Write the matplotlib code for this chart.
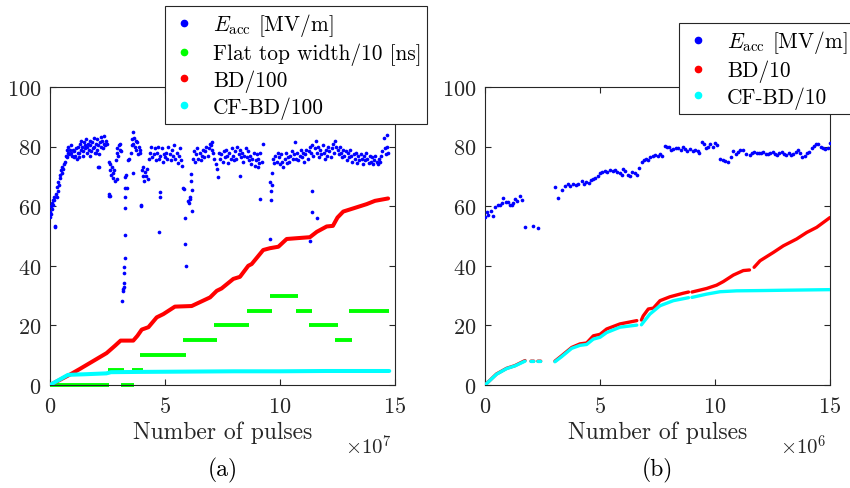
import numpy as np
import matplotlib
matplotlib.use("Agg")
import matplotlib.pyplot as plt
from matplotlib.lines import Line2D

plt.rcParams['font.family'] = ['cmr10', 'DejaVu Serif']
plt.rcParams['mathtext.fontset'] = 'cm'
plt.rcParams['axes.formatter.use_mathtext'] = True

nan = np.nan

# ---- panel (a): pulses in units of 1e7 ----
eacc_a_x = [0.0, 0.02, 0.04, 0.06, 0.08, 0.1, 0.12, 0.14, 0.16, 0.18, 0.2, 0.22,
            0.26, 0.3, 0.3, 0.33, 0.36, 0.4, 0.42, 0.45, 0.48, 0.5, 0.53, 0.56, 0.6,
            0.66, 0.7, 0.72, 0.75, 0.78, 0.8, 0.83, 0.86, 0.9, 0.93, 0.96, 1.0, 1.03, 1.06,
            1.1, 1.13, 1.16, 1.2,
            1.22, 1.26, 1.3, 1.33, 1.36, 1.4, 1.43, 1.46, 1.5, 1.53, 1.56, 1.6, 1.63, 1.66,
            1.7, 1.73, 1.76, 1.8, 1.83, 1.86, 1.9, 1.93, 1.96, 2.0, 2.03, 2.06, 2.1, 2.13,
            2.16, 2.2, 2.23, 2.26, 2.3, 2.33, 2.36, 2.4, 2.43, 2.46, 2.1, 1.25, 1.45, 1.75, 2.0,
            2.55, 2.6, 2.63, 2.66, 2.7, 2.73, 2.76, 2.8, 2.83, 2.57, 2.58, 2.85, 2.9, 2.93,
            2.96, 3.0, 3.03, 3.06, 3.1, 2.6, 2.9, 2.13,
            3.13, 3.17, 3.18, 3.2, 3.2, 3.22, 3.23, 3.24, 3.25, 3.26, 3.27, 3.28, 3.27, 3.3, 3.33,
            3.4, 3.45, 3.5, 3.55, 3.58, 3.6, 3.63, 3.66, 3.7, 3.73, 3.76, 3.8, 3.83, 3.86, 3.9,
            3.93, 3.62, 3.97, 3.97,
            4.0, 4.03, 4.06, 4.1, 4.13, 4.16, 4.2, 4.25,
            4.3, 4.35, 4.4, 4.45, 4.5, 4.55, 4.6, 4.65, 4.7, 4.75, 4.8, 4.85, 4.9, 4.95, 5.0,
            4.78, 4.79, 4.75,
            5.05, 5.1, 5.15, 5.2, 5.25, 5.3, 5.35, 5.4, 5.45, 5.5, 5.55, 5.6, 5.65, 5.7, 5.75,
            5.83, 5.86, 5.86, 5.91, 6.01, 6.05, 6.09, 6.12, 6.12, 6.16, 6.16, 6.1, 5.8,
            6.2, 6.25, 6.3, 6.35, 6.4, 6.45, 6.5, 6.55, 6.6, 6.65, 6.7, 6.75, 6.8, 6.85, 6.9,
            6.95, 7.0, 7.03, 7.06, 7.1, 7.15, 7.2, 7.25, 7.32,
            7.35, 7.4, 7.45, 7.5, 7.55, 7.6, 7.65, 7.7, 7.75, 7.8, 7.85, 7.9, 7.95, 8.0, 8.05,
            8.1, 8.15, 8.2, 8.25, 8.3, 8.35, 8.4, 8.45, 8.5, 8.55, 8.6, 8.65, 8.7, 8.75, 8.8,
            8.85, 8.9, 8.95, 9.0, 9.05, 9.1, 9.15, 9.2, 8.26, 9.06, 9.27,
            9.13, 9.57, 9.6, 9.62, 9.57, 9.64, 9.64,
            9.7, 9.75, 9.8, 9.85, 9.9, 9.95, 10.0, 10.05, 10.1, 10.15, 10.2, 10.25, 10.3, 10.35,
            10.4, 10.45, 10.5, 10.55, 10.6, 10.65, 10.7, 10.75, 10.8, 10.85, 10.9, 10.95, 11.0,
            11.05, 11.1, 11.15, 11.2, 11.25, 11.3,
            11.38, 11.38, 11.6, 11.3,
            11.35, 11.4, 11.45, 11.5, 11.55, 11.6, 11.65, 11.7, 11.75, 11.8, 11.85, 11.9, 11.95,
            12.0, 12.05, 12.1, 12.15, 12.2, 12.25, 12.3, 12.35, 12.4, 12.45,
            12.5, 12.55, 12.6, 12.65, 12.7, 12.75, 12.8, 12.85, 12.9, 12.95, 13.0, 13.05, 13.1,
            13.15, 13.2, 13.25, 13.3, 13.35, 13.4, 13.45, 13.5, 13.55, 13.6, 13.65, 13.7, 13.75,
            13.8, 13.85, 13.9, 13.95, 14.0, 14.05, 14.1, 14.15, 14.2, 14.25, 14.3, 14.35, 14.4,
            14.45, 14.5, 14.55, 14.6, 14.64, 14.65, 14.7]
eacc_a_y = [56.5, 58, 60, 57.5, 61, 59, 62, 60.5, 63, 62, 53, 53.3,
            64, 66.5, 63, 65, 68, 67, 69.5, 70.5, 72, 71, 73, 72.5, 74,
            75, 77, 79, 76.5, 78, 80, 77.5, 79, 78, 80.5, 77, 79, 76.5, 78.5,
            77, 79.5, 76, 78,
            80, 78, 81, 79, 82, 80, 78.5, 81.5, 79.5, 80.5, 82.5, 78, 80, 81,
            79, 82, 80.5, 78.5, 81.5, 79.5, 83, 80, 78, 81, 82.5, 79, 80.5, 77.5,
            81.5, 83.2, 80, 82, 79.5, 81, 83.5, 80.5, 82, 81, 73, 76.5, 77, 77, 78,
            75, 72, 74, 70.5, 73, 71, 69.5, 72, 68.6, 64, 63.5, 75.5, 78, 79.5,
            77, 80.5, 79, 81, 78.5, 63.5, 69, 73.3,
            28.3, 31.7, 32.3, 32.8, 34.1, 37.5, 39.5, 42.5, 50.3, 59.3, 63, 66, 69.7, 70.5, 66,
            75.5, 76, 78, 80.5, 82.5, 84.9, 81, 83, 80, 82, 79, 81.5, 77.5, 80, 78,
            79, 71.3, 59.9, 60.5,
            72, 70, 73, 68.5, 71.5, 70, 72.5, 69,
            76, 78, 80, 76.5, 77.5, 79.5, 75.5, 78, 80, 76, 77, 79.5, 75, 77.5, 76.5,
            64.8, 63, 51.5,
            78, 76, 80, 77.5, 75.5, 79, 77, 80.5, 76, 78, 74.5, 77, 79.5, 75.5, 73.5,
            65.8, 55.9, 47.3, 39.8, 61.8, 61.2, 62.4, 70.8, 68.6, 58.5, 65.5, 63, 66,
            76, 78.5, 75, 77.5, 79.5, 76, 78, 75.5, 77, 79, 76.5, 78.5, 80, 77, 79.5,
            81, 80.5, 81.4, 79, 78, 76, 74, 72.5, 69.7,
            78, 76, 77.5, 75, 78.5, 76.5, 79, 77, 74.5, 78, 76, 79.5, 77, 75.5, 78.5,
            76, 80, 77.5, 79, 76.5, 78, 75, 77, 79.5, 76.5, 78.5, 75.5, 77, 74, 76,
            78, 73.5, 75.5, 77.5, 76, 74.5, 78, 75, 70.2, 73, 80.9,
            62.4, 68, 65, 62, 49, 67, 71,
            76, 74.5, 77, 75, 78, 76.5, 74, 77.5, 75, 73, 76, 78, 74.5, 76.5,
            75, 77, 78.5, 76, 77.5, 81.4, 76, 78, 75.5, 77, 79, 76.5, 78,
            75, 77.5, 79, 76, 78.5, 80,
            65.2, 58, 56, 48.2,
            78, 80.5, 77, 79.5, 82, 78, 80, 76.5, 79, 77.5, 80.5, 78, 76,
            79, 77, 80, 78.5, 76.5, 79.5, 81, 78, 82, 80,
            79, 77.5, 80, 78, 76.5, 79, 77, 78.5, 75.5, 78, 76.5, 79, 77,
            75, 77.5, 76, 78, 74.5, 77, 75.5, 77.5, 76, 74, 77, 75.5, 78,
            76, 74.5, 77, 75, 76.5, 74, 75.5, 77, 75, 74, 76, 75, 77,
            78.5, 83, 79.5, 77.5, 83.9, 80, 78]

flat_y = [0, 0, 5, 5, 10, 15, 20, 25, 30, 25, 20, 15, 25]
flat_x0 = [0.0, 3.1, 2.5, 3.55, 3.9, 5.8, 7.15, 8.57, 9.55, 10.7, 11.27, 12.4, 13.0]
flat_x1 = [2.57, 3.65, 3.2, 4.05, 5.9, 7.27, 8.67, 9.64, 10.8, 11.4, 12.5, 13.15, 14.75]

bd_a_x = [0, 0.87, 1.3, 2.46, 2.83, 3.07, 3.62, 3.8, 3.99, 4.28, 4.64, 4.93, 5.43, 6.16,
          6.38, 6.96, 7.25, 7.46, 7.97, 8.26, 8.62, 8.77, 9.27, 9.56, 9.93, 10.29, 11.3,
          11.6, 12.03, 12.3, 12.5, 12.75, 13.2, 13.77, 14.13, 14.7]
bd_a_y = [0, 3.5, 5.4, 10.7, 13.2, 14.9, 14.9, 16.5, 18.6, 19.4, 22.7, 23.8, 26.3, 26.5,
          27.3, 29.4, 31.6, 32.4, 35.6, 36.3, 40, 40.6, 45.3, 45.9, 46.4, 49, 49.6,
          51.4, 53.2, 53.4, 56.2, 58.2, 59.3, 60.7, 61.8, 62.6]

cfbd_a_x = [0, 0.78, 1.5, 2.45, 2.65, 4.0, 6.0, 8.0, 10.0, 12.0, 14.75]
cfbd_a_y = [0, 3.4, 3.6, 3.9, 4.3, 4.4, 4.5, 4.6, 4.6, 4.7, 4.7]

# ---- panel (b): pulses in units of 1e6 ----
eacc_b_x = [0.0, 0.1, 0.15, 0.25, 0.36, 0.43, 0.55, 0.65, 0.75, 0.8, 0.9, 1.0, 1.1, 1.16,
            1.2, 1.3, 1.4, 1.52, 1.6, 1.74, 2.1, 2.32,
            3.04, 3.19, 3.33, 3.48, 3.6, 3.7, 3.84, 3.95, 4.05, 4.2, 4.3, 4.4, 4.5, 4.6, 4.71,
            4.8, 4.9, 5.0, 5.07, 5.2, 5.3, 5.43, 5.55, 5.65, 5.75, 5.85, 5.95, 6.01, 6.1, 6.2,
            6.3, 6.4, 6.5, 6.6, 6.7, 6.81, 6.9, 7.0, 7.1, 7.17, 7.3, 7.4, 7.5, 7.6, 7.7, 7.83,
            7.9, 8.0, 8.1, 8.19, 8.3, 8.4, 8.5, 8.6, 8.7, 8.8, 8.9, 9.05, 9.15, 9.25, 9.3, 9.42,
            9.5, 9.6, 9.7, 9.8, 9.9, 10.0, 10.1, 10.2, 10.35, 10.45, 10.58, 10.7, 10.8, 10.9,
            11.0, 11.1, 11.2, 11.35, 11.5, 11.6, 11.7, 11.81, 11.9, 12.0, 12.1, 12.2, 12.3, 12.4,
            12.5, 12.6, 12.7, 12.8, 12.9, 13.0, 13.1, 13.2, 13.3, 13.4, 13.5, 13.6, 13.7, 13.8,
            13.9, 14.0, 14.1, 14.2, 14.3, 14.4, 14.49, 14.6, 14.7, 14.8, 14.9, 15.0]
eacc_b_y = [56.3, 57.9, 57, 58.5, 56.8, 59.6, 60.5, 60.4, 61, 62.8, 61.5, 61.5, 60.5, 60.4,
            61, 62.5, 61.8, 63.5, 62, 52.9, 53.2, 52.7,
            66.3, 62.8, 65.5, 66.9, 67.3, 66.8, 67.4, 67, 67.6, 68.6, 67.5, 68, 67.8, 68.8, 69.1,
            69.5, 70, 71, 71.4, 71.8, 71.5, 72.2, 71.8, 72, 71.5, 71, 70.5, 72.5, 71.8, 70.5,
            70.2, 71.5, 71, 70.5, 72.8, 74.7, 75.5, 76, 75.5, 76.4, 76.8, 77.2, 76.8, 77.5, 76.8, 80.3,
            79.8, 80, 78.8, 79.2, 79.6, 79.5, 79.0, 79.8, 79.2, 78.5, 79.2, 78.6, 79, 78.5, 77.8, 81.7,
            80.8, 79.5, 80, 81, 79.8, 81.2, 80.5, 75.8, 75.6, 75.2, 75, 76.5, 78.6, 77.5,
            78.2, 78.8, 79, 77.5, 77.2, 77.8, 78.3, 77.9, 78, 77.8, 78.1, 77.5, 77.6, 77.9,
            78.2, 77.5, 77.2, 77.8, 78.3, 77.6, 77.2, 77.8, 77.1, 77.5, 78.3, 78.8, 77.9, 76.4,
            76.8, 78, 78.2, 79.5, 80.2, 80.8, 80.9, 79.8, 79.5, 79.2, 79.6, 81.2]

bd_b_x = [0, 0.5, 0.94, 1.3, 1.74, nan, 2.0, 2.12, nan, 2.3, 2.42, nan,
          3.04, 3.33, 3.77, 4.13, 4.42, 4.71, 5.0, 5.29, 5.87, 6.6, nan,
          6.8, 6.88, 7.1, 7.32, 7.61, 8.04, 8.62, 8.85, nan,
          9.0, 9.64, 10.07, 10.36, 10.8, 11.23, 11.5, nan,
          11.7, 11.96, 12.54, 12.97, 13.55, 13.99, 14.42, 15.0]
bd_b_y = [0, 3.7, 5.6, 6.5, 8.2, nan, 8, 8, nan, 8, 8, nan,
          8, 9.8, 12.6, 13.8, 14.1, 16.5, 17, 18.8, 20.5, 21.6, nan,
          21.8, 23.2, 25.5, 25.8, 28.3, 29.6, 30.8, 31.2, nan,
          31.2, 32.4, 33.5, 34.7, 36.9, 38.4, 38.6, nan,
          39.5, 41.7, 44.5, 46.7, 49, 51.2, 52.9, 56.2]

cfbd_b_x = [0, 0.5, 0.94, 1.3, 1.74, nan, 2.0, 2.12, nan, 2.3, 2.42, nan,
            3.04, 3.33, 3.77, 4.13, 4.42, 4.71, 5.0, 5.29, 5.87, 6.6, nan,
            6.8, 6.88, 7.17, 7.61, 8.19, 8.85, nan,
            9.0, 9.64, 10.22, 10.94, 12.1, 13.0, 14.0, 15.0]
cfbd_b_y = [0, 3.6, 5.5, 6.4, 8.0, nan, 7.9, 7.9, nan, 7.9, 7.9, nan,
            7.8, 9.5, 12.3, 13.3, 13.6, 15.4, 16, 17.6, 19.4, 20.1, nan,
            20.2, 21, 23.8, 26.6, 28.3, 29.3, nan,
            29.4, 30.5, 31.3, 31.6, 31.7, 31.8, 31.9, 32]

AXC = '#262626'
BLUE = '#0000ff'
GREEN = '#00ff00'
RED = '#ff0000'
CYAN = '#00ffff'
FS = 17      # axis label
TFS = 16     # tick labels
LFS = 15.4   # legend

fig = plt.figure(figsize=(8.5, 4.89), dpi=100)
ax1 = fig.add_axes([50 / 850, 1 - 386 / 489, 345 / 850, 298 / 489])
ax2 = fig.add_axes([485 / 850, 1 - 386 / 489, 345 / 850, 298 / 489])

# panel (a)
ax1.scatter(eacc_a_x, eacc_a_y, s=7, color=BLUE, linewidths=0, zorder=3)
ax1.hlines(flat_y, flat_x0, flat_x1, colors=GREEN, linewidth=2.8, zorder=2, clip_on=False)
ax1.plot(bd_a_x, bd_a_y, color=RED, linewidth=2.9, solid_capstyle='round', zorder=4)
ax1.plot(cfbd_a_x, cfbd_a_y, color=CYAN, linewidth=2.9, solid_capstyle='round', zorder=5)

# panel (b)
ax2.scatter(eacc_b_x, eacc_b_y, s=7, color=BLUE, linewidths=0, zorder=3)
ax2.plot(bd_b_x, bd_b_y, color=RED, linewidth=2.4, solid_capstyle='round', zorder=4)
ax2.plot(cfbd_b_x, cfbd_b_y, color=CYAN, linewidth=2.4, solid_capstyle='round', zorder=5)

for ax, sub, expo in [(ax1, '(a)', r'$\times10^{7}$'), (ax2, '(b)', r'$\times10^{6}$')]:
    ax.set_xlim(0, 15)
    ax.set_ylim(0, 100)
    ax.set_xticks([0, 5, 10, 15])
    ax.set_yticks([0, 20, 40, 60, 80, 100])
    ax.tick_params(direction='in', length=4, width=0.8, colors=AXC, labelsize=TFS,
                   top=True, right=True, pad=6)
    ax.tick_params(axis='x', pad=8)
    for sp in ax.spines.values():
        sp.set_color(AXC)
        sp.set_linewidth(0.8)
    ax.set_xlabel('Number of pulses', fontsize=FS, color=AXC, labelpad=3)
    ax.text(0.99, -0.205, expo, transform=ax.transAxes, ha='right', va='center',
            fontsize=15, color=AXC)
    ax.text(0.5, -0.285, sub, transform=ax.transAxes, ha='center', va='center',
            fontsize=FS, color='black')

def dot(c):
    return Line2D([], [], linestyle='none', marker='o', markersize=4.5,
                  markerfacecolor=c, markeredgecolor=c)

eacc_label = r'$E_\mathrm{acc}$ [MV/m]'
leg1 = fig.legend([dot(BLUE), dot(GREEN), dot(RED), dot(CYAN)],
                  [eacc_label, 'Flat top width/10 [ns]', 'BD/100', 'CF-BD/100'],
                  loc='upper right', bbox_to_anchor=(427 / 850, 1 - 7 / 489),
                  fontsize=LFS, frameon=True, fancybox=False, framealpha=1,
                  edgecolor=AXC, borderpad=0.25, labelspacing=0.2,
                  handlelength=1.3, handletextpad=0.7, borderaxespad=0)
leg1.get_frame().set_linewidth(0.8)
leg2 = fig.legend([dot(BLUE), dot(RED), dot(CYAN)],
                  [eacc_label, 'BD/10', 'CF-BD/10'],
                  loc='upper right', bbox_to_anchor=(853 / 850, 1 - 24 / 489),
                  fontsize=LFS, frameon=True, fancybox=False, framealpha=1,
                  edgecolor=AXC, borderpad=0.25, labelspacing=0.2,
                  handlelength=1.3, handletextpad=0.7, borderaxespad=0)
leg2.get_frame().set_linewidth(0.8)

fig.savefig('out.png', dpi=100)
